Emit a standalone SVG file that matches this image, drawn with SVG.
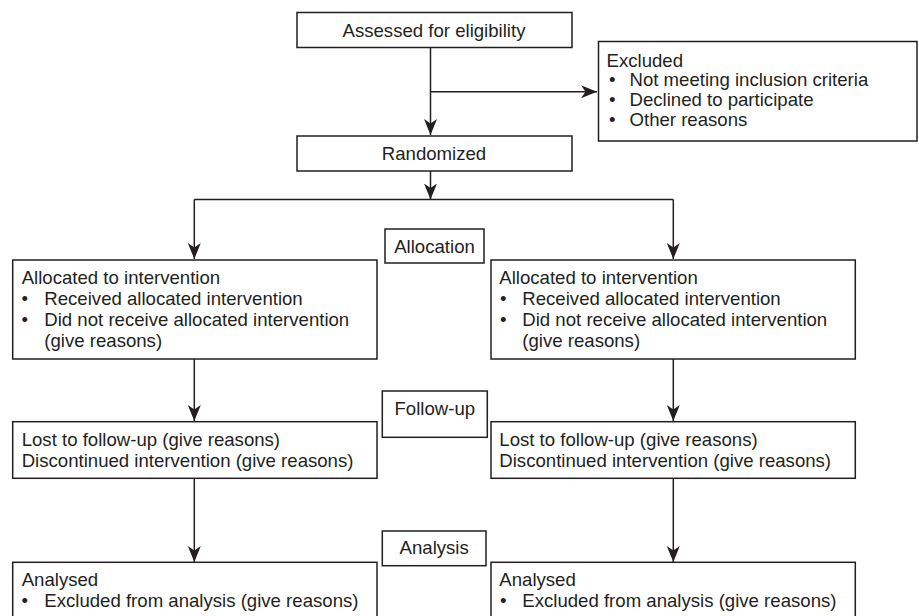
<svg xmlns="http://www.w3.org/2000/svg" width="919" height="616" viewBox="0 0 919 616">
<defs>
<style>
.box{fill:#fff;stroke:#231f20;stroke-width:1.5}
.ln{fill:none;stroke:#231f20;stroke-width:1.5}
text{font-family:"Liberation Sans",Arial,sans-serif;font-size:18.6px;fill:#231f20}
.c{text-anchor:middle}
</style>
<marker id="ah" markerUnits="userSpaceOnUse" markerWidth="17" markerHeight="15" refX="16" refY="7" orient="auto">
<path d="M0,0.5 L16,7 L0,13.5 L4.5,7 Z" fill="#231f20"/>
</marker>
</defs>
<g id="connectors">
<path class="ln" d="M430.5,47 V135" marker-end="url(#ah)"/>
<path class="ln" d="M430.5,91.7 H597" marker-end="url(#ah)"/>
<path class="ln" d="M430.5,171 V199.5" marker-end="url(#ah)"/>
<path class="ln" d="M194.3,199.5 H673.3"/>
<path class="ln" d="M194.3,199.5 V259" marker-end="url(#ah)"/>
<path class="ln" d="M673.3,199.5 V259" marker-end="url(#ah)"/>
<path class="ln" d="M194.3,359 V421" marker-end="url(#ah)"/>
<path class="ln" d="M673.3,359 V421" marker-end="url(#ah)"/>
<path class="ln" d="M194.3,478 V562" marker-end="url(#ah)"/>
<path class="ln" d="M673.3,478 V562" marker-end="url(#ah)"/>
</g>
<g id="assessed">
<rect class="box" x="297" y="12.5" width="275" height="35"/>
<text class="c" x="434" y="36.5">Assessed for eligibility</text>
</g>
<g id="excluded">
<rect class="box" x="598.5" y="41.5" width="318.5" height="99.5"/>
<text x="606.5" y="66.5">Excluded</text>
<text x="609" y="86">•</text><text x="629.5" y="86">Not meeting inclusion criteria</text>
<text x="609" y="106">•</text><text x="629.5" y="106">Declined to participate</text>
<text x="609" y="125.5">•</text><text x="629.5" y="125.5">Other reasons</text>
</g>
<g id="randomized">
<rect class="box" x="297" y="136" width="275" height="35"/>
<text class="c" x="434" y="159.5">Randomized</text>
</g>
<g id="allocation">
<rect class="box" x="385" y="229" width="99" height="34"/>
<text class="c" x="434.5" y="252.5">Allocation</text>
</g>
<g id="alloc-left">
<rect class="box" x="12.7" y="260" width="364.3" height="99"/>
<text x="21.7" y="283.5">Allocated to intervention</text>
<text x="21.5" y="304.5">•</text><text x="44.3" y="304.5">Received allocated intervention</text>
<text x="21.5" y="326">•</text><text x="44.3" y="326">Did not receive allocated intervention</text>
<text x="44.3" y="347">(give reasons)</text>
</g>
<g id="alloc-right">
<rect class="box" x="491" y="260" width="364.3" height="99"/>
<text x="499.3" y="283.5">Allocated to intervention</text>
<text x="500" y="304.5">•</text><text x="522.3" y="304.5">Received allocated intervention</text>
<text x="500" y="326">•</text><text x="522.3" y="326">Did not receive allocated intervention</text>
<text x="522.3" y="347">(give reasons)</text>
</g>
<g id="followup">
<rect class="box" x="382.3" y="391" width="105" height="46.3"/>
<text class="c" x="434.8" y="415">Follow-up</text>
</g>
<g id="follow-left">
<rect class="box" x="12.7" y="421.7" width="364.3" height="56.6"/>
<text x="21.7" y="445.5">Lost to follow-up (give reasons)</text>
<text x="21.7" y="466.5">Discontinued intervention (give reasons)</text>
</g>
<g id="follow-right">
<rect class="box" x="491" y="421.7" width="364.3" height="56.6"/>
<text x="499.3" y="445.5">Lost to follow-up (give reasons)</text>
<text x="499.3" y="466.5">Discontinued intervention (give reasons)</text>
</g>
<g id="analysis">
<rect class="box" x="382.3" y="531" width="103.7" height="34.7"/>
<text class="c" x="434.2" y="554">Analysis</text>
</g>
<g id="analysed-left">
<rect class="box" x="12.7" y="562.3" width="364.3" height="70"/>
<text x="21.7" y="586">Analysed</text>
<text x="21.5" y="607">•</text><text x="44.3" y="607">Excluded from analysis (give reasons)</text>
</g>
<g id="analysed-right">
<rect class="box" x="491" y="562.3" width="364.3" height="70"/>
<text x="499.3" y="586">Analysed</text>
<text x="500" y="607">•</text><text x="522.3" y="607">Excluded from analysis (give reasons)</text>
</g>
</svg>
